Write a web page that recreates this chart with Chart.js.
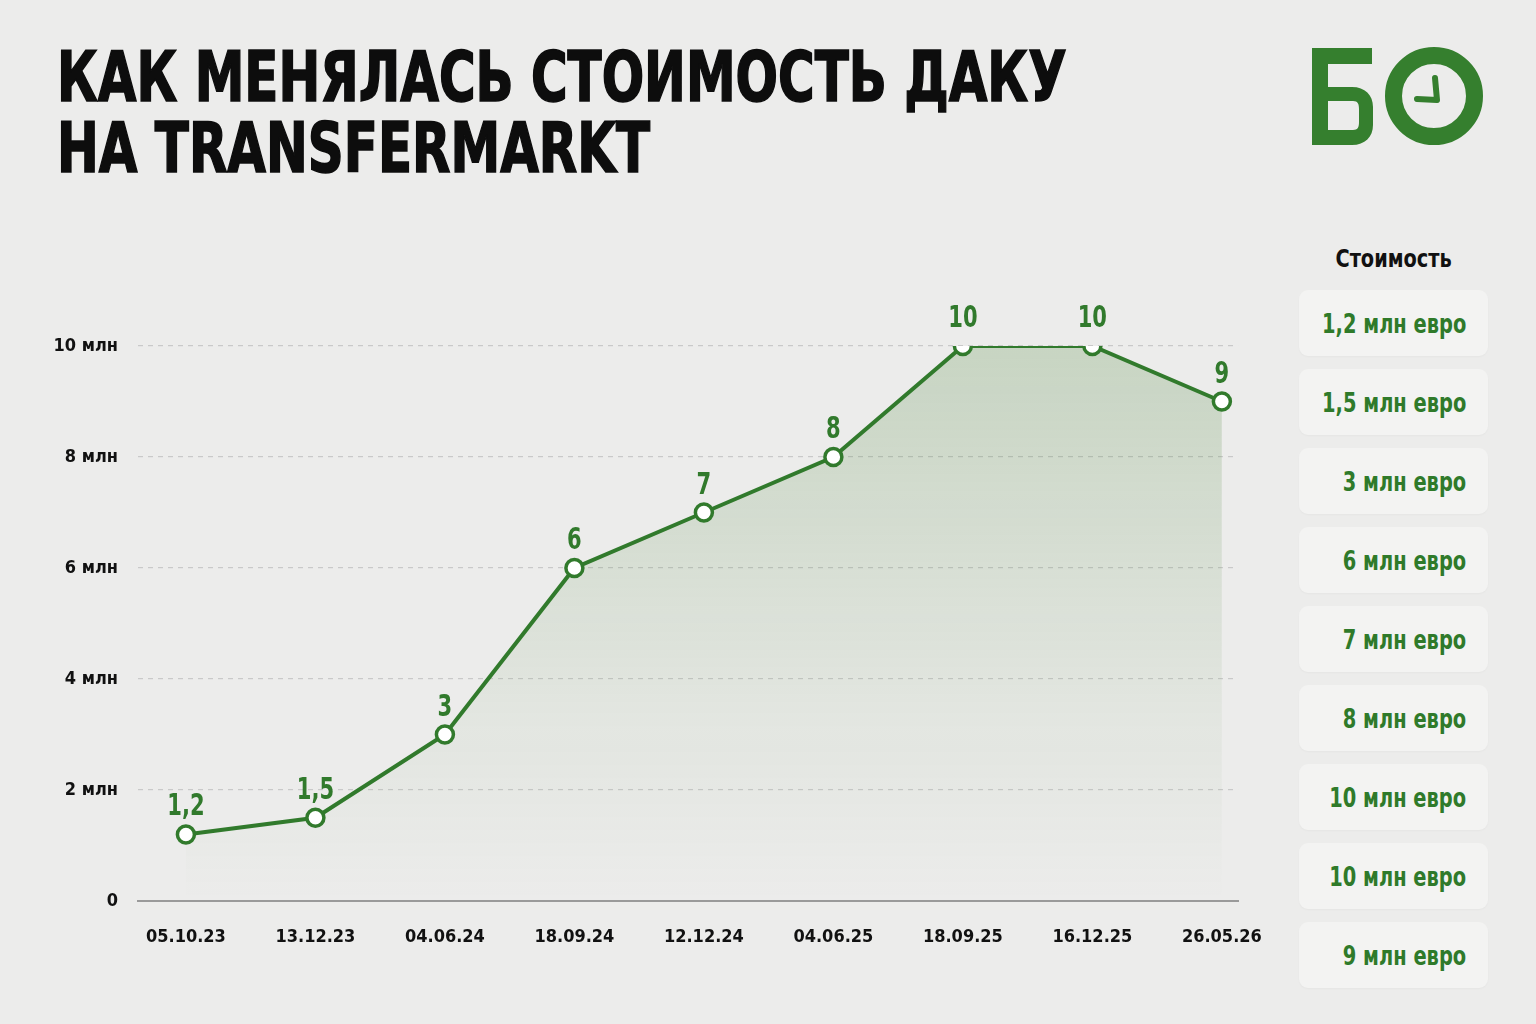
<!DOCTYPE html>
<html><head><meta charset="utf-8">
<script src="https://cdn.jsdelivr.net/npm/chart.js@4.4.1/dist/chart.umd.min.js"></script>
<style>
html,body{margin:0;padding:0;width:1536px;height:1024px;background:#ececeb;overflow:hidden;}
body{position:relative;font-family:"DejaVu Sans Condensed","DejaVu Sans",sans-serif;}
#title{position:absolute;left:57px;top:42px;font-weight:700;font-size:70px;line-height:71px;color:#0d0d0d;white-space:nowrap;transform:scaleX(0.793);transform-origin:left top;-webkit-text-stroke:1.6px #0d0d0d;}
#logo{position:absolute;left:1308px;top:44px;}
#wrap{position:absolute;left:0;top:230px;width:1288px;height:750px;}
#side{position:absolute;left:1299px;top:243px;width:189px;}
#side .hd{text-align:center;font-weight:700;font-size:25px;color:#111;height:47px;line-height:32px;white-space:nowrap;}
#side .hd span{display:inline-block;transform:scaleX(0.86);}
#side .bx{height:66px;margin-bottom:13px;background:#f3f3f2;border-radius:9px;display:flex;justify-content:flex-end;align-items:center;padding-right:22px;box-sizing:border-box;font-weight:700;font-size:27px;color:#2f7a2a;white-space:nowrap;box-shadow:0 1px 2px rgba(0,0,0,0.03);}
#side .bx span{flex-shrink:0;display:inline-block;transform:scaleX(0.8);transform-origin:right center;}
</style></head>
<body>
<div id="title">КАК МЕНЯЛАСЬ СТОИМОСТЬ ДАКУ<br>НА TRANSFERMARKT</div>
<svg id="logo" width="180" height="106" viewBox="0 0 180 106">
  <path fill-rule="evenodd" d="M4 4 H64 V20 H20 V43 H44 C57 43 65 51 65 63 V81 C65 93 57 101 44 101 H4 Z M20 57 V86 H45 C50 86 51 83 51 78 V65 C51 60 50 57 45 57 Z" fill="#357f2e"/>
  <circle cx="126" cy="52" r="40.5" fill="none" stroke="#357f2e" stroke-width="17"/>
  <path d="M127 34 L129 56 L109 55" fill="none" stroke="#357f2e" stroke-width="6" stroke-linecap="round" stroke-linejoin="round"/>
</svg>
<div id="wrap"><canvas id="c"></canvas></div>
<div id="side"></div>
<script>
const dates = ["05.10.23","13.12.23","04.06.24","18.09.24","12.12.24","04.06.25","18.09.25","16.12.25","26.05.26"];
const values = [1.2,1.5,3,6,7,8,10,10,9];
const yTicks = [0,2,4,6,8,10];
const sideHeader = "Стоимость";
const unitSuffix = " млн евро";
const tickSuffix = " млн";

const fmt = v => String(v).replace('.', ',');

const side = document.getElementById('side');
const hd = document.createElement('div'); hd.className='hd';
const hs = document.createElement('span'); hs.textContent=sideHeader; hd.appendChild(hs); side.appendChild(hd);
values.forEach(v=>{const b=document.createElement('div');b.className='bx';const s=document.createElement('span');s.textContent=fmt(v)+unitSuffix;b.appendChild(s);side.appendChild(b);});

const GREEN = '#317a2c';
const FONT = '"DejaVu Sans Condensed","DejaVu Sans",sans-serif';

const labelPlugin = {
  id:'vlabels',
  afterDatasetsDraw(chart){
    const ctx=chart.ctx; const meta=chart.getDatasetMeta(0);
    ctx.save();
    ctx.font='bold 30px '+FONT; ctx.fillStyle=GREEN; ctx.textAlign='center'; ctx.textBaseline='alphabetic';
    meta.data.forEach((p,i)=>{
      ctx.save(); ctx.translate(p.x, p.y-19); ctx.scale(0.78,1);
      ctx.fillText(fmt(values[i]), 0, 0); ctx.restore();
    });
    ctx.restore();
  }
};

const ctx=document.getElementById('c');
new Chart(ctx,{
  type:'line',
  data:{datasets:[{
    data: values.map((v,i)=>({x:i,y:v})),
    borderColor:GREEN, borderWidth:4, tension:0,
    pointRadius:8.5, pointHoverRadius:8.5, pointBackgroundColor:'#ffffff', pointBorderColor:GREEN, pointBorderWidth:3.5,
    fill:'origin',
    backgroundColor:(c)=>{const a=c.chart.chartArea; if(!a) return 'rgba(49,122,44,0.15)';
      const g=c.chart.ctx.createLinearGradient(0,a.top,0,a.bottom);
      g.addColorStop(0,'rgba(70,130,50,0.22)'); g.addColorStop(0.65,'rgba(70,130,50,0.06)'); g.addColorStop(1,'rgba(70,130,50,0.0)'); return g;}
  }]},
  options:{
    responsive:true, maintainAspectRatio:false, animation:false,
    layout:{padding:{top:116,right:0,left:0,bottom:0}},
    plugins:{legend:{display:false},tooltip:{enabled:false}},
    scales:{
      x:{type:'linear', min:-0.37, max:8.125,
        afterBuildTicks:(s)=>{s.ticks=dates.map((d,i)=>({value:i}));},
        afterFit:(s)=>{s.height=79;},
        grid:{display:false, drawTicks:false},
        border:{display:true,color:'#9a9a9a',width:2},
        ticks:{padding:26,color:'#111',font:{family:FONT,weight:'bold',size:18},maxRotation:0,autoSkip:false,
          callback:(v)=>dates[v]}
      },
      y:{min:0,max:10,
        afterBuildTicks:(s)=>{s.ticks=yTicks.map(v=>({value:v}));},
        afterFit:(s)=>{s.width=138;},
        grid:{color:'#c9c9c9',lineWidth:1.2,drawTicks:false},
        border:{display:false,dash:[5,5]},
        ticks:{padding:20,color:'#111',font:{family:FONT,weight:'bold',size:18},
          callback:(v)=> v===0?'0':v+tickSuffix}
      }
    }
  },
  plugins:[labelPlugin]
});
</script>
</body></html>
